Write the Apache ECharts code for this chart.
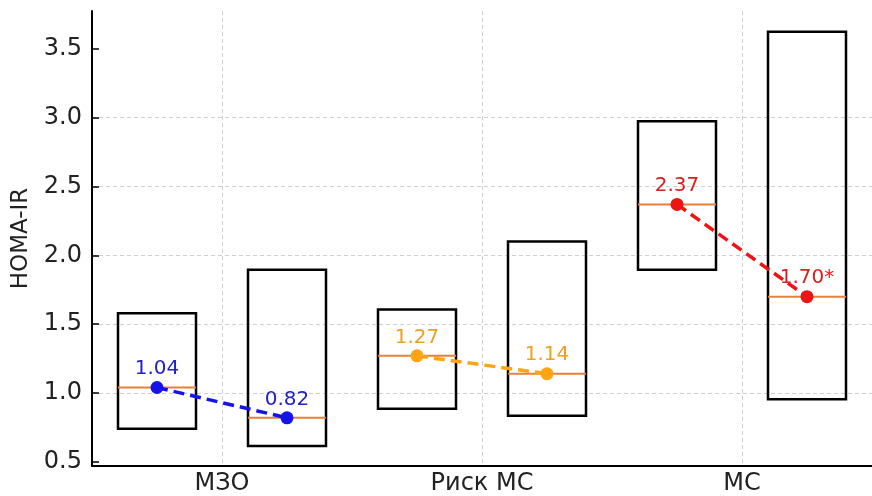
<!DOCTYPE html>
<html>
<head>
<meta charset="utf-8">
<script src="https://cdn.jsdelivr.net/npm/echarts@6/dist/echarts.min.js"></script>
<style>
  html, body { margin: 0; padding: 0; background: #fff; }
  #chart { width: 872px; height: 496px; }
</style>
</head>
<body>
<div id="chart"></div>
<script>
// HOMA-IR before / after, per group: interquartile boxes with medians
const categories = ['МЗО', 'Риск МС', 'МС'];
const q1Before  = [0.74, 0.885, 1.895];
const medBefore = [1.04, 1.27, 2.37];
const q3Before  = [1.58, 1.607, 2.975];
const q1After   = [0.615, 0.835, 0.955];
const medAfter  = [0.82, 1.14, 1.70];
const q3After   = [1.895, 2.10, 3.625];
const afterMarks = ['', '', '*'];
const yTicks = [0.5, 1.0, 1.5, 2.0, 2.5, 3.0, 3.5];

const groupColors = ['#1414e8', '#ffa412', '#ee1414'];
const labelColors = ['#2222c4', '#e8a31c', '#d81e1e'];
const MEDIAN_COLOR = '#e8803a';
const GRID_COLOR = '#d0d0d0';
const TEXT_COLOR = '#222';
const FONT = 'DejaVu Sans';
const OFFSET = 0.25;   // box centre shift from the category centre
const BOX_W = 0.3;     // box width in axis units

// one record per box: [x, q1, median, q3]
const boxes = [];
categories.forEach((c, i) => {
  boxes.push([i - OFFSET, q1Before[i], medBefore[i], q3Before[i]]);
  boxes.push([i + OFFSET, q1After[i], medAfter[i], q3After[i]]);
});

function renderBox(params, api) {
  const x = api.value(0);
  const lo = api.coord([x, api.value(1)]);
  const mid = api.coord([x, api.value(2)]);
  const hi = api.coord([x, api.value(3)]);
  const w = api.size([BOX_W, 0])[0];
  return {
    type: 'group',
    children: [
      {
        type: 'rect',
        shape: { x: lo[0] - w / 2, y: hi[1], width: w, height: lo[1] - hi[1] },
        style: { fill: 'none', stroke: '#000', lineWidth: 2.5 }
      },
      {
        type: 'line',
        shape: { x1: lo[0] - w / 2, y1: mid[1], x2: lo[0] + w / 2, y2: mid[1] },
        style: { stroke: MEDIAN_COLOR, lineWidth: 2 }
      }
    ]
  };
}

const medianSeries = categories.map((c, i) => ({
  type: 'line',
  xAxisIndex: 1,
  data: [[i - OFFSET, medBefore[i]], [i + OFFSET, medAfter[i]]],
  symbol: 'circle',
  symbolSize: 13,
  itemStyle: { color: groupColors[i] },
  lineStyle: { color: groupColors[i], width: 3.5, type: [11, 6] },
  label: {
    show: true,
    position: 'top',
    distance: 2,
    fontSize: 20,
    fontFamily: FONT,
    color: labelColors[i],
    formatter: p => p.dataIndex === 0
      ? medBefore[i].toFixed(2)
      : medAfter[i].toFixed(2) + afterMarks[i]
  },
  z: 5,
  animation: false
}));

const chart = echarts.init(document.getElementById('chart'), null, { renderer: 'canvas' });
chart.setOption({
  backgroundColor: '#fff',
  animation: false,
  textStyle: { fontFamily: FONT },
  grid: { left: 92, right: 0, top: 11, bottom: 30 },
  xAxis: [
    {
      type: 'category',
      data: categories,
      boundaryGap: true,
      axisLine: { lineStyle: { color: '#000', width: 2 } },
      axisTick: { inside: true, alignWithLabel: true, length: 7, lineStyle: { color: '#000', width: 1.5 } },
      axisLabel: { fontSize: 24, fontFamily: FONT, color: TEXT_COLOR, margin: 6 },
      splitLine: { show: true, alignWithLabel: true, lineStyle: { color: GRID_COLOR, type: [4, 3], width: 1 } }
    },
    {
      type: 'value',
      min: -0.5,
      max: 2.5,
      show: false,
      splitLine: { show: false }
    }
  ],
  yAxis: {
    type: 'value',
    min: 0.47,
    max: 3.775,
    name: 'HOMA-IR',
    nameLocation: 'middle',
    nameGap: 56,
    nameTextStyle: { fontSize: 23, fontFamily: FONT, color: TEXT_COLOR },
    axisLine: { show: true, onZero: false, lineStyle: { color: '#000', width: 2 } },
    axisTick: { show: true, inside: true, length: 7, customValues: yTicks, lineStyle: { color: '#000', width: 1.5 } },
    axisLabel: {
      customValues: yTicks,
      fontSize: 24,
      fontFamily: FONT,
      color: TEXT_COLOR,
      margin: 10,
      formatter: v => v.toFixed(1)
    },
    splitLine: {
      show: true,
      showMinLine: false,
      showMaxLine: false,
      lineStyle: { color: GRID_COLOR, type: [4, 3], width: 1 }
    }
  },
  series: [
    {
      type: 'custom',
      xAxisIndex: 1,
      data: boxes,
      renderItem: renderBox,
      silent: true,
      z: 3
    }
  ].concat(medianSeries)
});
</script>
</body>
</html>
